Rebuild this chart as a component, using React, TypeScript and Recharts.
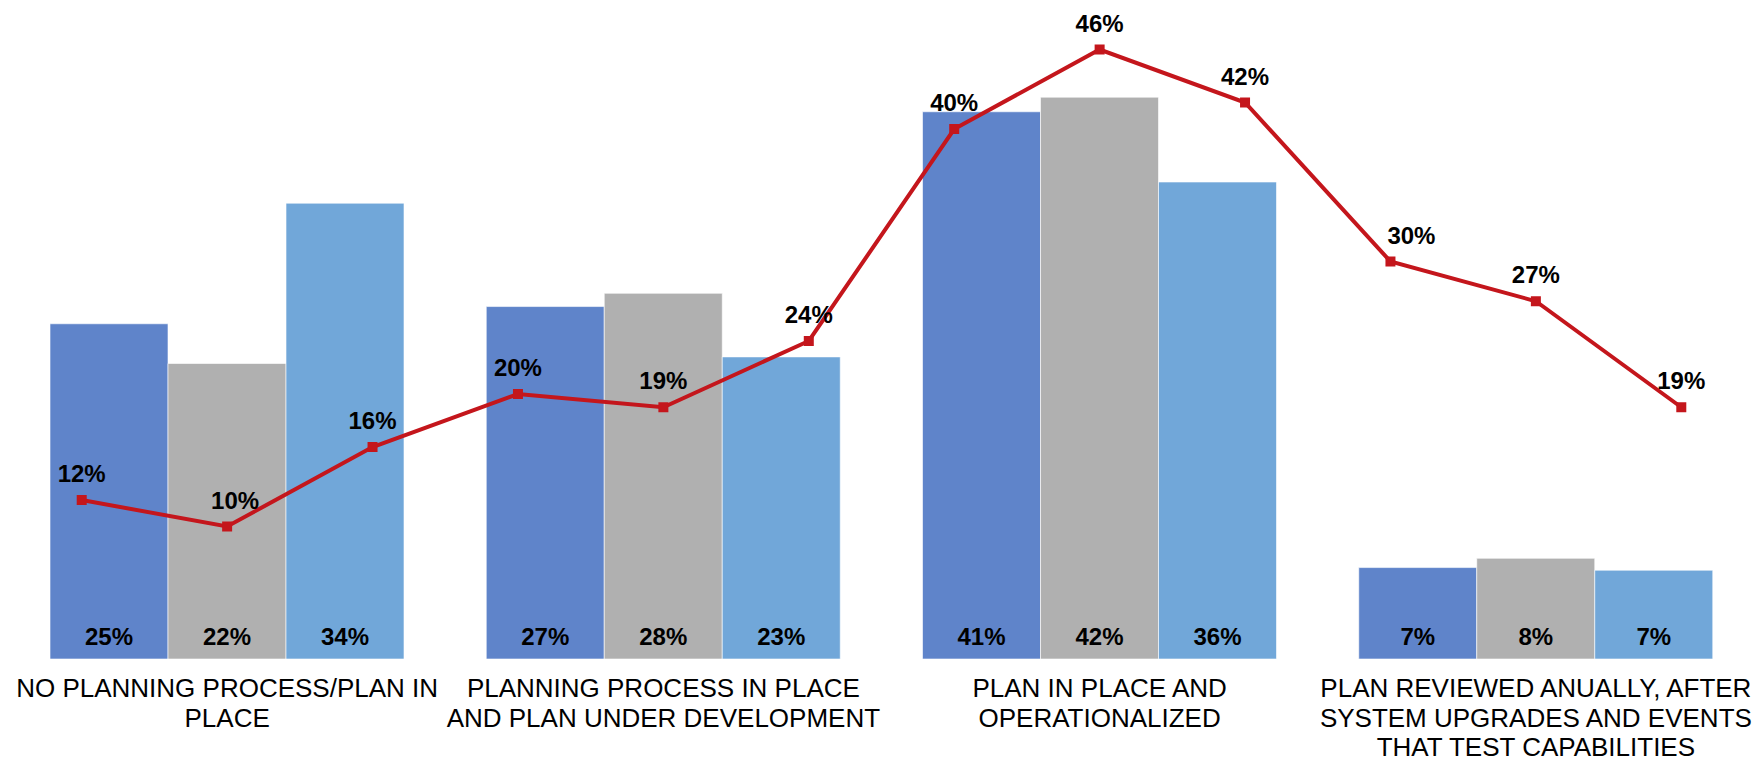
import React from "react";
import { ComposedChart, Bar, Line, XAxis, YAxis, LabelList } from "recharts";

const CATEGORIES = [
  "NO PLANNING PROCESS/PLAN IN PLACE",
  "PLANNING PROCESS IN PLACE AND PLAN UNDER DEVELOPMENT",
  "PLAN IN PLACE AND OPERATIONALIZED",
  "PLAN REVIEWED ANUALLY, AFTER SYSTEM UPGRADES AND EVENTS THAT TEST CAPABILITIES",
];
const CATEGORY_LINES = [
  ["NO PLANNING PROCESS/PLAN IN", "PLACE"],
  ["PLANNING PROCESS IN PLACE", "AND PLAN UNDER DEVELOPMENT"],
  ["PLAN IN PLACE AND", "OPERATIONALIZED"],
  ["PLAN REVIEWED ANUALLY, AFTER", "SYSTEM UPGRADES AND EVENTS", "THAT TEST CAPABILITIES"],
];
const SERIES_A = [25.3, 26.6, 41.3, 6.9];
const SERIES_B = [22.3, 27.6, 42.4, 7.6];
const SERIES_C = [34.4, 22.8, 36.0, 6.7];
const LINE_VALUES = [12, 10, 16, 20, 19, 24, 40, 46, 42, 30, 27, 19];

// styling only: horizontal nudges of the line labels
const LINE_LABEL_DX = [0, 8, 0, 0, 0, 0, 0, 0, 0, 21, 0, 0];

const FONT = "'Liberation Sans', Arial, sans-serif";
const RED = "#C4161C";

const barData = CATEGORIES.map((c, i) => ({
  cat: c,
  idx: i,
  a: SERIES_A[i],
  b: SERIES_B[i],
  c: SERIES_C[i],
}));

const lineData = LINE_VALUES.map((v, i) => ({ pos: i + 0.5, v }));

const CategoryTick = (props: any) => {
  const { x, y, index } = props;
  const lines = CATEGORY_LINES[index] || [String(props.payload?.value ?? "")];
  return (
    <text
      x={x}
      y={y + 38}
      textAnchor="middle"
      fill="#000"
      fontSize={26}
      fontFamily={FONT}
    >
      {lines.map((l: string, i: number) => (
        <tspan key={i} x={x} dy={i === 0 ? 0 : 29.5}>
          {l}
        </tspan>
      ))}
    </text>
  );
};

const SquareDot = (props: any) => {
  const { cx, cy } = props;
  if (cx == null || cy == null) return null;
  const s = 10;
  return <rect x={cx - s / 2} y={cy - s / 2} width={s} height={s} fill={RED} />;
};

const LineLabel = (props: any) => {
  const vb = props.viewBox || {};
  const px = props.x ?? vb.x;
  const py = props.y ?? vb.y;
  const idx = props.index ?? 0;
  if (px == null || py == null) return null;
  return (
    <text
      x={px + (LINE_LABEL_DX[idx] || 0)}
      y={py - 18}
      textAnchor="middle"
      fill="#000"
      fontSize={24}
      fontWeight="bold"
      fontFamily={FONT}
    >
      {`${props.value}%`}
    </text>
  );
};

const fmt = (v: any) => `${Math.round(Number(v))}%`;

const barLabelProps = {
  position: "insideBottom" as const,
  offset: 14,
  fill: "#000",
  fontSize: 24,
  fontWeight: "bold",
  fontFamily: FONT,
  formatter: fmt,
};

export default function App() {
  return (
    <ComposedChart
      width={1750}
      height={753}
      data={barData}
      margin={{ top: 15, right: 4, bottom: 0, left: 1 }}
      barCategoryGap={41}
      barGap={0}
    >
      <XAxis
        dataKey="cat"
        type="category"
        axisLine={false}
        tickLine={false}
        tickSize={0}
        tickMargin={0}
        height={102}
        interval={0}
        tick={<CategoryTick />}
      />
      <XAxis xAxisId="line" dataKey="pos" type="number" domain={[0, 12]} hide allowDataOverflow />
      <YAxis type="number" domain={[0, 48]} hide allowDataOverflow />
      <Bar dataKey="a" fill="#5F84CA" stroke="#ffffff" strokeOpacity={0.6} strokeWidth={1} isAnimationActive={false}>
        <LabelList dataKey="a" {...barLabelProps} />
      </Bar>
      <Bar dataKey="b" fill="#B0B0B0" stroke="#ffffff" strokeOpacity={0.6} strokeWidth={1} isAnimationActive={false}>
        <LabelList dataKey="b" {...barLabelProps} />
      </Bar>
      <Bar dataKey="c" fill="#71A7D9" stroke="#ffffff" strokeOpacity={0.6} strokeWidth={1} isAnimationActive={false}>
        <LabelList dataKey="c" {...barLabelProps} />
      </Bar>
      <Line
        xAxisId="line"
        data={lineData}
        dataKey="v"
        type="linear"
        stroke={RED}
        strokeWidth={4}
        dot={<SquareDot />}
        activeDot={false}
        isAnimationActive={false}
      >
        <LabelList dataKey="v" content={<LineLabel />} />
      </Line>
    </ComposedChart>
  );
}
